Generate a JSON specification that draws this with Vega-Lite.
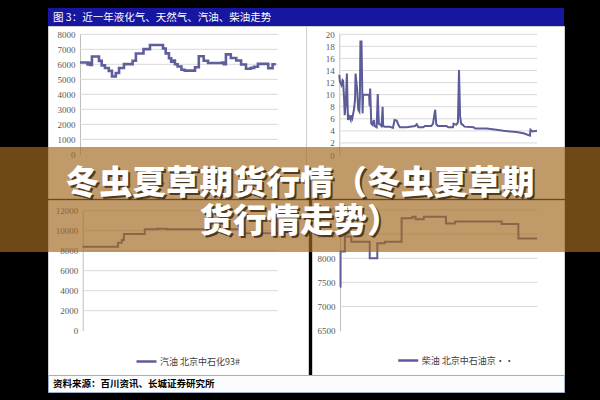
{
  "$schema": "https://vega.github.io/schema/vega-lite/v6.json",
  "background": "black",
  "padding": {"top": 8, "bottom": 8, "left": 0, "right": 0},
  "datasets": {
    "lpg": [
      {"d": "2010/12/12", "v": 6120}, {"d": "2010/12/26", "v": 5990}, {"d": "2010/12/29", "v": 6100}, {"d": "2010/12/31", "v": 5950},
      {"d": "2011/01/03", "v": 6520}, {"d": "2011/01/16", "v": 6230}, {"d": "2011/01/21", "v": 5930}, {"d": "2011/01/27", "v": 5750},
      {"d": "2011/02/03", "v": 5560}, {"d": "2011/02/09", "v": 5190}, {"d": "2011/02/16", "v": 5420}, {"d": "2011/02/22", "v": 5750},
      {"d": "2011/03/03", "v": 6010}, {"d": "2011/03/19", "v": 6240}, {"d": "2011/03/25", "v": 6720}, {"d": "2011/04/08", "v": 7010},
      {"d": "2011/04/20", "v": 7290}, {"d": "2011/05/14", "v": 7050}, {"d": "2011/05/19", "v": 6730}, {"d": "2011/05/25", "v": 6400},
      {"d": "2011/05/29", "v": 6170}, {"d": "2011/06/01", "v": 6250}, {"d": "2011/06/05", "v": 6000}, {"d": "2011/06/10", "v": 5850},
      {"d": "2011/06/17", "v": 5640}, {"d": "2011/06/23", "v": 5580}, {"d": "2011/07/12", "v": 5800}, {"d": "2011/07/19", "v": 6540},
      {"d": "2011/07/28", "v": 6240}, {"d": "2011/08/05", "v": 6090}, {"d": "2011/08/31", "v": 6120}, {"d": "2011/09/03", "v": 6000},
      {"d": "2011/09/07", "v": 6660}, {"d": "2011/09/16", "v": 6420}, {"d": "2011/09/26", "v": 6250}, {"d": "2011/10/05", "v": 5990},
      {"d": "2011/10/14", "v": 5700}, {"d": "2011/10/23", "v": 5760}, {"d": "2011/10/29", "v": 5840}, {"d": "2011/11/05", "v": 6030},
      {"d": "2011/11/24", "v": 5740}, {"d": "2011/12/02", "v": 6000}, {"d": "2011/12/08", "v": 6000}
    ],
    "gas": [
      {"d": "2010/12/12", "v": 13.3}, {"d": "2010/12/13", "v": 12.2}, {"d": "2010/12/16", "v": 11.6}, {"d": "2010/12/18", "v": 12.4},
      {"d": "2010/12/19", "v": 12.3}, {"d": "2010/12/21", "v": 9.1}, {"d": "2010/12/22", "v": 6.6}, {"d": "2010/12/24", "v": 8.6},
      {"d": "2010/12/26", "v": 13.5}, {"d": "2010/12/28", "v": 5.8}, {"d": "2010/12/30", "v": 6.4}, {"d": "2011/01/02", "v": 5.8},
      {"d": "2011/01/03", "v": 6.6}, {"d": "2011/01/05", "v": 6.1}, {"d": "2011/01/08", "v": 7.5}, {"d": "2011/01/10", "v": 9.1},
      {"d": "2011/01/11", "v": 13.5}, {"d": "2011/01/14", "v": 10.8}, {"d": "2011/01/16", "v": 7.5}, {"d": "2011/01/18", "v": 7.2},
      {"d": "2011/01/19", "v": 9.7}, {"d": "2011/01/20", "v": 18.8}, {"d": "2011/01/22", "v": 18.8}, {"d": "2011/01/24", "v": 6.9},
      {"d": "2011/01/25", "v": 10.0}, {"d": "2011/02/05", "v": 10.0}, {"d": "2011/02/06", "v": 8.1}, {"d": "2011/02/07", "v": 11.0},
      {"d": "2011/02/09", "v": 5.2}, {"d": "2011/02/11", "v": 5.0}, {"d": "2011/02/14", "v": 5.8}, {"d": "2011/02/15", "v": 4.8},
      {"d": "2011/02/17", "v": 4.7}, {"d": "2011/02/19", "v": 4.6}, {"d": "2011/02/21", "v": 10.1}, {"d": "2011/02/23", "v": 5.2},
      {"d": "2011/02/26", "v": 5.0}, {"d": "2011/02/28", "v": 4.8}, {"d": "2011/03/02", "v": 8.0}, {"d": "2011/03/03", "v": 4.8},
      {"d": "2011/03/06", "v": 4.7}, {"d": "2011/03/15", "v": 4.7}, {"d": "2011/03/21", "v": 4.5}, {"d": "2011/03/24", "v": 5.8},
      {"d": "2011/03/28", "v": 5.7}, {"d": "2011/03/31", "v": 5.0}, {"d": "2011/04/03", "v": 4.6}, {"d": "2011/04/15", "v": 4.6},
      {"d": "2011/05/01", "v": 4.8}, {"d": "2011/05/04", "v": 5.1}, {"d": "2011/05/07", "v": 4.6}, {"d": "2011/05/16", "v": 4.6},
      {"d": "2011/05/19", "v": 4.8}, {"d": "2011/05/31", "v": 4.8}, {"d": "2011/06/03", "v": 5.2}, {"d": "2011/06/07", "v": 7.5},
      {"d": "2011/06/09", "v": 5.1}, {"d": "2011/06/12", "v": 4.8}, {"d": "2011/06/28", "v": 4.8}, {"d": "2011/07/01", "v": 4.6},
      {"d": "2011/07/10", "v": 4.6}, {"d": "2011/07/11", "v": 5.2}, {"d": "2011/07/16", "v": 5.0}, {"d": "2011/07/19", "v": 5.4},
      {"d": "2011/07/21", "v": 14.1}, {"d": "2011/07/23", "v": 6.4}, {"d": "2011/07/25", "v": 5.2}, {"d": "2011/07/28", "v": 5.0},
      {"d": "2011/07/31", "v": 4.7}, {"d": "2011/08/17", "v": 4.6}, {"d": "2011/08/20", "v": 4.4}, {"d": "2011/09/10", "v": 4.4},
      {"d": "2011/09/28", "v": 4.2}, {"d": "2011/10/11", "v": 4.0}, {"d": "2011/10/23", "v": 3.9}, {"d": "2011/11/04", "v": 3.8},
      {"d": "2011/11/17", "v": 3.6}, {"d": "2011/11/29", "v": 3.2}, {"d": "2011/11/30", "v": 4.2}, {"d": "2011/12/04", "v": 3.9},
      {"d": "2011/12/12", "v": 4.0}
    ],
    "gasoline": [
      {"d": "2010/12/12", "v": 8400}, {"d": "2011/02/16", "v": 8800}, {"d": "2011/02/23", "v": 9070}, {"d": "2011/02/27", "v": 9670},
      {"d": "2011/04/07", "v": 10140}, {"d": "2011/05/01", "v": 10200}, {"d": "2011/05/18", "v": 10140}, {"d": "2011/10/09", "v": 9740},
      {"d": "2011/12/12", "v": 9740}
    ],
    "diesel": [
      {"d": "2010/12/12", "v": 7410}, {"d": "2010/12/13", "v": 8140}, {"d": "2010/12/21", "v": 8450}, {"d": "2011/01/02", "v": 8340},
      {"d": "2011/02/05", "v": 8000}, {"d": "2011/02/19", "v": 8310}, {"d": "2011/03/05", "v": 8340}, {"d": "2011/04/05", "v": 8830},
      {"d": "2011/04/25", "v": 8860}, {"d": "2011/05/01", "v": 8810}, {"d": "2011/05/16", "v": 8860}, {"d": "2011/06/26", "v": 8720},
      {"d": "2011/07/13", "v": 8760}, {"d": "2011/10/07", "v": 8710}, {"d": "2011/11/07", "v": 8410}, {"d": "2011/12/12", "v": 8410}
    ],
    "gTL": [{"v": 1000}, {"v": 2000}, {"v": 3000}, {"v": 4000}, {"v": 5000}, {"v": 6000}, {"v": 7000}, {"v": 8000}],
    "gTR": [{"v": 2}, {"v": 4}, {"v": 6}, {"v": 8}, {"v": 10}, {"v": 12}, {"v": 14}, {"v": 16}, {"v": 18}, {"v": 20}],
    "gBL": [{"v": 2000}, {"v": 4000}, {"v": 6000}, {"v": 8000}, {"v": 10000}, {"v": 12000}],
    "gBR": [{"v": 7000}, {"v": 7500}, {"v": 8000}, {"v": 8500}, {"v": 9000}],
    "banner": [
      {"r": 1, "t": "冬虫夏草期货行情（冬虫夏草期"},
      {"r": 2, "t": "货行情走势）"}
    ]
  },
  "bounds": "flush",
  "spacing": 139,
  "resolve": {"scale": {"x": "independent", "y": "independent", "color": "independent"}, "legend": {"color": "independent"}},
  "vconcat": [
    {
      "bounds": "flush",
      "spacing": 0,
      "resolve": {"scale": {"x": "independent", "y": "independent", "color": "independent"}, "legend": {"color": "independent"}},
      "hconcat": [
        {"width": 48, "height": 10, "view": {"stroke": null, "fill": null}, "data": {"values": []}, "mark": "point", "encoding": {}},
        {
          "bounds": "flush",
          "spacing": 0,
          "resolve": {"scale": {"x": "independent", "y": "independent", "color": "independent"}, "legend": {"color": "independent"}},
          "vconcat": [
            {
              "width": 516, "height": 18,
              "view": {"fill": "#1616a0", "stroke": null},
              "data": {"values": [{"t": "图 3：近一年液化气、天然气、汽油、柴油走势"}]},
              "mark": {"type": "text", "align": "left", "baseline": "middle", "dx": -253, "dy": 0.5, "color": "white", "font": "Noto Sans CJK SC", "fontSize": 10.5},
              "encoding": {"text": {"field": "t"}}
            },
            {
              "bounds": "flush",
              "spacing": 174,
              "resolve": {"scale": {"x": "independent", "y": "independent", "color": "independent"}, "legend": {"color": "independent"}},
              "vconcat": [
                {
                  "bounds": "flush",
                  "spacing": 0,
                  "resolve": {"scale": {"x": "independent", "y": "independent", "color": "independent"}, "legend": {"color": "independent"}},
                  "hconcat": [
                    {
                      "width": 258, "height": 172,
                      "encoding": {
                        "y": {"field": "v", "type": "quantitative",
                          "scale": {"domain": [0, 8000], "range": [128.3, 8.3], "nice": false},
                          "axis": {"values": [0, 1000, 2000, 3000, 4000, 5000, 6000, 7000, 8000], "format": "d", "offset": -32, "title": null}}
                      },
                      "layer": [
                        {"data": {"name": "gTL"}, "mark": {"type": "rule", "color": "#d9d9d9", "strokeWidth": 1},
                          "encoding": {"x": {"datum": {"year": 2010, "month": 12, "date": 12}, "type": "temporal", "axis": null}, "x2": {"datum": {"year": 2011, "month": 12, "date": 12}}}},
                        {"data": {"name": "lpg"}, "mark": {"type": "line", "interpolate": "step-after", "strokeWidth": 2.6, "color": "#5f5f9d"},
                          "encoding": {
                            "x": {"field": "d", "type": "temporal",
                              "scale": {"domain": [{"year": 2010, "month": 12, "date": 12}, {"year": 2011, "month": 12, "date": 12}], "range": [32, 230]},
                              "axis": {"values": [{"year": 2010, "month": 12, "date": 12}, {"year": 2011, "month": 3, "date": 12}, {"year": 2011, "month": 6, "date": 12}, {"year": 2011, "month": 9, "date": 12}], "format": "%Y/%-m/%-d", "offset": -43.7, "title": null}},
                            "color": {"datum": "液化气", "scale": {"range": ["#5f5f9d"]}, "legend": {"orient": "none", "legendX": 95, "legendY": 146, "title": null}}
                          }}
                      ]
                    },
                    {
                      "width": 258, "height": 172,
                      "encoding": {
                        "y": {"field": "v", "type": "quantitative",
                          "scale": {"domain": [0, 20], "range": [129, 8.3], "nice": false},
                          "axis": {"values": [0, 2, 4, 6, 8, 10, 12, 14, 16, 18, 20], "format": "d", "offset": -33.3, "title": null}}
                      },
                      "layer": [
                        {"data": {"name": "gTR"}, "mark": {"type": "rule", "color": "#d9d9d9", "strokeWidth": 1},
                          "encoding": {"x": {"datum": {"year": 2010, "month": 12, "date": 12}, "type": "temporal", "axis": null}, "x2": {"datum": {"year": 2011, "month": 12, "date": 12}}}},
                        {"data": {"name": "gas"}, "mark": {"type": "line", "strokeWidth": 2},
                          "encoding": {
                            "x": {"field": "d", "type": "temporal",
                              "scale": {"domain": [{"year": 2010, "month": 12, "date": 12}, {"year": 2011, "month": 12, "date": 12}], "range": [33.3, 231]},
                              "axis": {"values": [{"year": 2010, "month": 12, "date": 12}, {"year": 2011, "month": 3, "date": 12}, {"year": 2011, "month": 6, "date": 12}, {"year": 2011, "month": 9, "date": 12}], "format": "%Y/%-m/%-d", "offset": -43, "title": null}},
                            "color": {"datum": "天然气", "scale": {"range": ["#5c5c9a"]}, "legend": {"orient": "none", "legendX": 75, "legendY": 146, "title": null}}
                          }}
                      ]
                    }
                  ]
                },
                {
                  "bounds": "flush",
                  "spacing": 175,
                  "resolve": {"scale": {"x": "independent", "y": "independent", "color": "independent"}, "legend": {"color": "independent"}},
                  "vconcat": [
                    {
                      "bounds": "flush",
                      "spacing": 4,
                      "resolve": {"scale": {"x": "independent", "y": "independent", "color": "independent"}, "legend": {"color": "independent"}},
                      "hconcat": [
                        {
                          "width": 260, "height": 175,
                          "encoding": {
                            "y": {"field": "v", "type": "quantitative",
                              "scale": {"domain": [0, 12000], "range": [130.7, 10.7], "nice": false},
                              "axis": {"values": [0, 2000, 4000, 6000, 8000, 10000, 12000], "format": "d", "offset": -34.7, "title": null}}
                          },
                          "layer": [
                            {"data": {"name": "gBL"}, "mark": {"type": "rule", "color": "#d9d9d9", "strokeWidth": 1},
                              "encoding": {"x": {"datum": {"year": 2010, "month": 12, "date": 12}, "type": "temporal", "axis": null}, "x2": {"datum": {"year": 2011, "month": 12, "date": 12}}}},
                            {"data": {"name": "gasoline"}, "mark": {"type": "line", "interpolate": "step-after", "strokeWidth": 2},
                              "encoding": {
                                "x": {"field": "d", "type": "temporal",
                                  "scale": {"domain": [{"year": 2010, "month": 12, "date": 12}, {"year": 2011, "month": 12, "date": 12}], "range": [34.7, 230]},
                                  "axis": {"values": [{"year": 2010, "month": 12, "date": 12}, {"year": 2011, "month": 3, "date": 12}, {"year": 2011, "month": 6, "date": 12}, {"year": 2011, "month": 9, "date": 12}], "format": "%Y/%-m/%-d", "offset": -44.3, "title": null}},
                                "color": {"datum": "汽油  北京中石化93#", "scale": {"range": ["#5c5c9a"]}, "legend": {"orient": "none", "legendX": 87, "legendY": 150, "title": null}}
                              }}
                          ]
                        },
                        {
                          "width": 252, "height": 175,
                          "encoding": {
                            "y": {"field": "v", "type": "quantitative",
                              "scale": {"domain": [6500, 9000], "range": [130.7, 10], "nice": false, "zero": false},
                              "axis": {"values": [6500, 7000, 7500, 8000, 8500, 9000], "format": "d", "offset": -28, "title": null}}
                          },
                          "layer": [
                            {"data": {"name": "gBR"}, "mark": {"type": "rule", "color": "#d9d9d9", "strokeWidth": 1},
                              "encoding": {"x": {"datum": {"year": 2010, "month": 12, "date": 12}, "type": "temporal", "axis": null}, "x2": {"datum": {"year": 2011, "month": 12, "date": 12}}}},
                            {"data": {"name": "diesel"}, "mark": {"type": "line", "interpolate": "step-after", "strokeWidth": 2},
                              "encoding": {
                                "x": {"field": "d", "type": "temporal",
                                  "scale": {"domain": [{"year": 2010, "month": 12, "date": 12}, {"year": 2011, "month": 12, "date": 12}], "range": [28, 225.3]},
                                  "axis": {"values": [{"year": 2010, "month": 12, "date": 12}, {"year": 2011, "month": 3, "date": 12}, {"year": 2011, "month": 6, "date": 12}, {"year": 2011, "month": 9, "date": 12}], "format": "%Y/%-m/%-d", "offset": -44.3, "title": null}},
                                "color": {"datum": "柴油  北京中石油京··", "scale": {"range": ["#5c5c9a"]}, "legend": {"orient": "none", "legendX": 84.7, "legendY": 149, "title": null}}
                              }}
                          ]
                        }
                      ]
                    },
                    {
                      "width": 516, "height": 17,
                      "view": {"fill": "#fbfcfe", "stroke": "#9fb0cc"},
                      "data": {"values": [{"t": "资料来源：百川资讯、长城证券研究所"}]},
                      "mark": {"type": "text", "align": "left", "baseline": "middle", "dx": -253, "dy": 0.5, "color": "black", "font": "Noto Sans CJK SC", "fontSize": 9.5, "fontWeight": "bold"},
                      "encoding": {"text": {"field": "t"}}
                    }
                  ]
                }
              ]
            }
          ]
        }
      ]
    },
    {
      "width": 600, "height": 105,
      "view": {"fill": "#a46a24", "fillOpacity": 0.68, "stroke": null},
      "data": {"name": "banner"},
      "encoding": {
        "y": {"field": "r", "type": "ordinal", "scale": {"type": "point", "padding": 0.86}, "axis": null},
        "text": {"field": "t"}
      },
      "layer": [
        {"mark": {"type": "text", "font": "Noto Sans CJK SC", "fontSize": 33.5, "fontWeight": 900, "color": "#3e2a10", "opacity": 0.85, "baseline": "middle", "dx": 2, "dy": 5.5}},
        {"mark": {"type": "text", "font": "Noto Sans CJK SC", "fontSize": 33.5, "fontWeight": 900, "color": "white", "baseline": "middle", "dy": 3.5}}
      ]
    }
  ],
  "config": {
    "view": {"stroke": "#cfcfcf", "fill": "white"},
    "concat": {"spacing": 0},
    "axis": {"labelFont": "Liberation Serif", "labelFontSize": 9, "labelColor": "#595959", "domainColor": "#bfbfbf", "tickColor": "#bfbfbf", "tickSize": 4, "grid": false, "labelFlush": false, "labelOverlap": false, "labelBound": false},
    "axisY": {"ticks": false, "labelPadding": 5},
    "axisX": {"labelPadding": 2},
    "legend": {"symbolType": "stroke", "symbolStrokeWidth": 2.5, "symbolSize": 400, "labelFont": "Noto Sans CJK SC", "labelFontSize": 9, "labelColor": "#404040", "labelOffset": 2}
  }
}
